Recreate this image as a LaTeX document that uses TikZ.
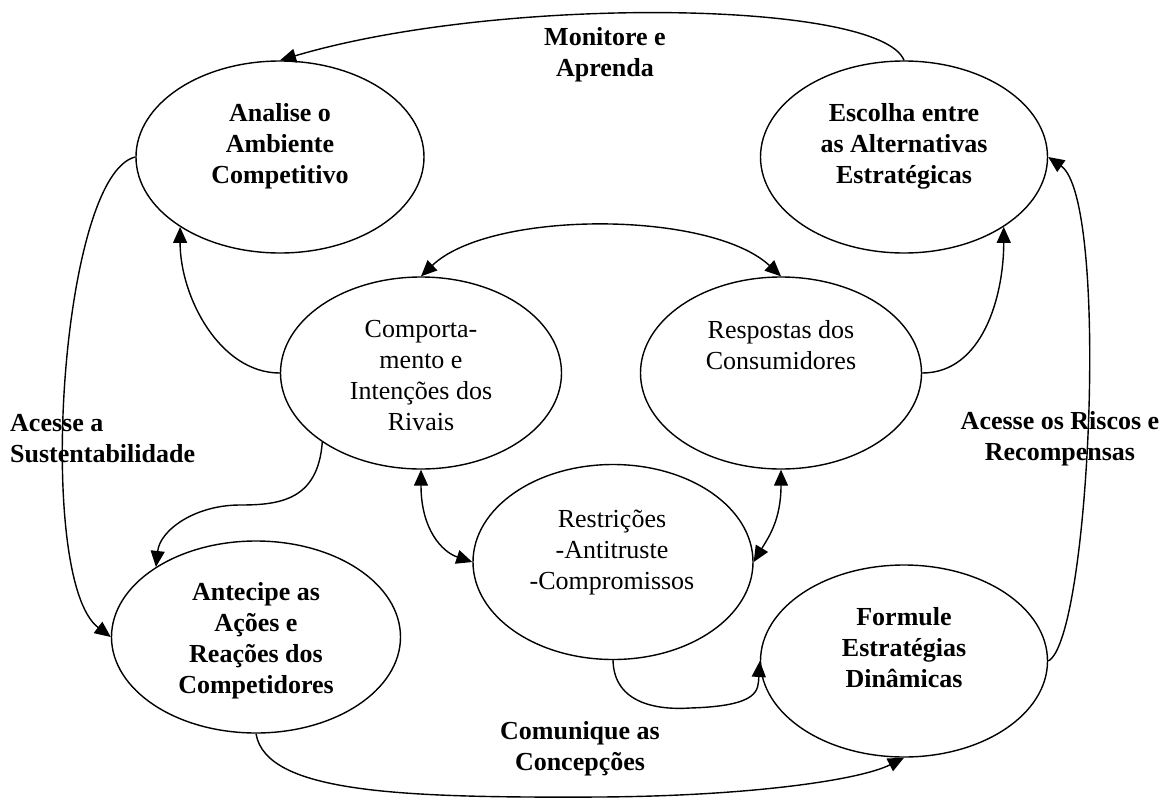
\documentclass[tikz,border=0pt]{standalone}
\usepackage{fontspec}
\setmainfont{Liberation Serif}
\usetikzlibrary{shapes.geometric,arrows.meta}
\tikzset{
  ell/.style={draw, ellipse, line width=1.4pt, inner sep=0pt},
  bt/.style={align=center, font=\fontsize{26}{31}\selectfont\bfseries, inner sep=0pt},
  rt/.style={align=center, font=\fontsize{26}{31}\selectfont, inner sep=0pt},
  conn/.style={line width=1.4pt},
  arr/.style={conn, -{Triangle[length=16pt,width=14pt]}},
  darr/.style={conn, {Triangle[length=16pt,width=14pt]}-{Triangle[length=16pt,width=14pt]}},
}
\begin{document}
\begin{tikzpicture}[x=1pt,y=-1pt]
\useasboundingbox (0,0) rectangle (1164,798);
% ellipses
\node[ell, minimum width=288pt, minimum height=192pt] (A) at (280,157) {};
\node[ell, minimum width=287pt, minimum height=192pt] (E) at (904,157) {};
\node[ell, minimum width=281pt, minimum height=192pt] (C) at (421,373) {};
\node[ell, minimum width=281pt, minimum height=192pt] (R) at (781,373) {};
\node[ell, minimum width=280pt, minimum height=195pt] (T) at (613,562) {};
\node[ell, minimum width=289pt, minimum height=192pt] (P) at (256,637) {};
\node[ell, minimum width=287pt, minimum height=192pt] (F) at (904,661) {};
% ellipse texts
\node[bt] (tA) at (280,146) {Analise o\\Ambiente\\Competitivo};
\node[bt] (tE) at (904,146) {Escolha entre\\as Alternativas\\Estratégicas};
\node[rt] (tC) at (421,376) {Comporta-\\mento e\\Intenções dos\\Rivais};
\node[rt] (tR) at (781,345) {Respostas dos\\Consumidores};
\node[rt] (tT) at (612,552) {Restrições\\-Antitruste\\-Compromissos};
\node[bt] (tP) at (256,641) {Antecipe as\\Ações e\\Reações dos\\Competidores};
\node[bt] (tF) at (904,648) {Formule\\Estratégias\\Dinâmicas};
% labels
\node[bt] (lM) at (605,55) {Monitore e\\Aprenda};
\node[bt, align=left, anchor=west] (lS) at (10,439) {Acesse a\\Sustentabilidade};
\node[bt] (lR) at (1060,439) {Acesse os Riscos e\\Recompensas};
\node[bt] (lC) at (580,749) {Comunique as\\Concepções};
% connectors
\draw[arr] (E.north) .. controls (880,0) and (500,-5) .. (A.north);
\draw[arr] (A.west) .. controls (60,175) and (35,580) .. (P.west);
\draw[arr] (F.east) .. controls (1090,640) and (1110,200) .. (E.east);
\draw[arr] (C.west) .. controls +(-60,0) and +(0,70) .. (A.215);
\draw[arr] (R.east) .. controls +(60,0) and +(0,70) .. (E.325);
\draw[darr] (C.north) .. controls (490,210) and (710,210) .. (R.north);
\draw[arr] (C.215) .. controls (318,500) and (280,505) .. (240,505) .. controls (195,505) and (160,530) .. (P.145);
\draw[darr] (C.south) .. controls +(0,60) and +(-30,-10) .. (T.west);
\draw[darr] (R.south) .. controls +(0,50) and +(15,-25) .. (T.east);
\draw[arr] (T.south) .. controls (614,705) and (660,710) .. (690,708) .. controls (760,706) and (758,690) .. (F.west);
\draw[arr] (P.south) .. controls (266,793) and (400,798) .. (600,797) .. controls (750,796) and (860,780) .. (F.south);
\end{tikzpicture}
\end{document}
